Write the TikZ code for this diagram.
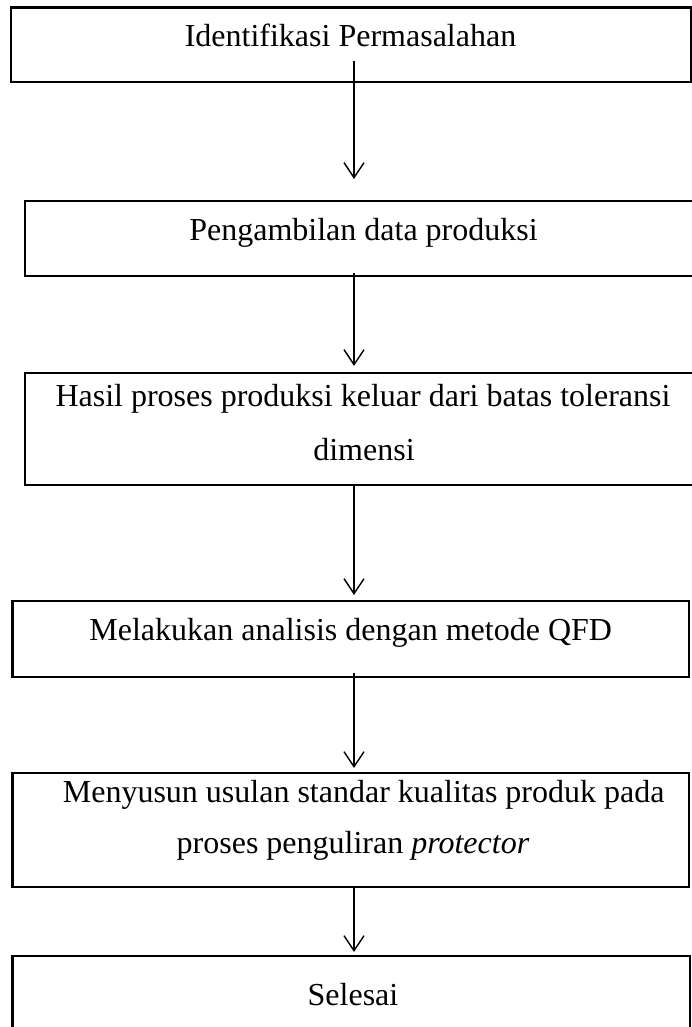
\documentclass[tikz,border=0pt]{standalone}
\usepackage{fontspec}
\setmainfont{Liberation Serif}
\usetikzlibrary{arrows.meta}

\begin{document}
\begin{tikzpicture}[x=1pt,y=-1pt,
    box/.style={draw,rectangle,inner sep=0pt,line width=2.2pt},
    txt/.style={anchor=base,inner sep=0pt,font=\fontsize{32}{40}\selectfont},
    flow/.style={line width=1.4pt,-{Straight Barb[length=15pt,width=20pt,line width=1.4pt]}}]
        \useasboundingbox (0,0) rectangle (692,1027);

        % Arrow axis
        \coordinate (axis) at (354.000000,0.000000);

        % Box 1: Identifikasi Permasalahan
        \node [box,minimum width=680.9pt,minimum height=74.2pt] (b1) at (351.050000,44.600000) {};
        \node [txt] (t1) at (350.500000,47.000000) {Identifikasi Permasalahan};

        % Box 2: Pengambilan data produksi
        \node [box,minimum width=675.3pt,minimum height=75pt] (b2) at (362.350000,238.200000) {};
        \node [txt] (t2) at (363.500000,240.000000) {Pengambilan data produksi};

        % Box 3: Hasil proses produksi
        \node [box,minimum width=675.3pt,minimum height=112pt] (b3) at (362.350000,429.300000) {};
        \node [txt] (t3a) at (363.000000,406.000000) {Hasil proses produksi keluar dari batas toleransi};
        \node [txt] (t3b) at (364.000000,460.000000) {dimensi};

        % Box 4: Melakukan analisis
        \node [box,minimum width=676.6pt,minimum height=76pt] (b4) at (350.700000,638.700000) {};
        \node [txt] (t4) at (350.700000,640.000000) {Melakukan analisis dengan metode QFD};

        % Box 5: Menyusun usulan
        \node [box,minimum width=676.6pt,minimum height=114pt] (b5) at (350.700000,829.700000) {};
        \node [txt] (t5a) at (363.700000,802.500000) {Menyusun usulan standar kualitas produk pada};
        \node [txt] (t5b) at (353.000000,853.000000) {proses penguliran \textit{protector}};

        % Box 6: Selesai
        \node [box,minimum width=677.6pt,minimum height=84.3pt] (b6) at (351.200000,997.850000) {};
        \node [txt] (t6) at (353.000000,1005.000000) {Selesai};

        % Drawing arrows between boxes
        \draw [flow] ([yshift=21.7pt]b1.south -| axis) -- ([yshift=20.7pt]b2.north -| axis);
        \draw [flow] ([yshift=3.7pt]b2.south -| axis) -- ([yshift=6.3pt]b3.north -| axis);
        \draw [flow] (b3.south -| axis) -- ([yshift=4.7pt]b4.north -| axis);
        \draw [flow] ([yshift=4.7pt]b4.south -| axis) -- ([yshift=3.7pt]b5.north -| axis);
        \draw [flow] (b5.south -| axis) -- ([yshift=2.7pt]b6.north -| axis);
\end{tikzpicture}
\end{document}
